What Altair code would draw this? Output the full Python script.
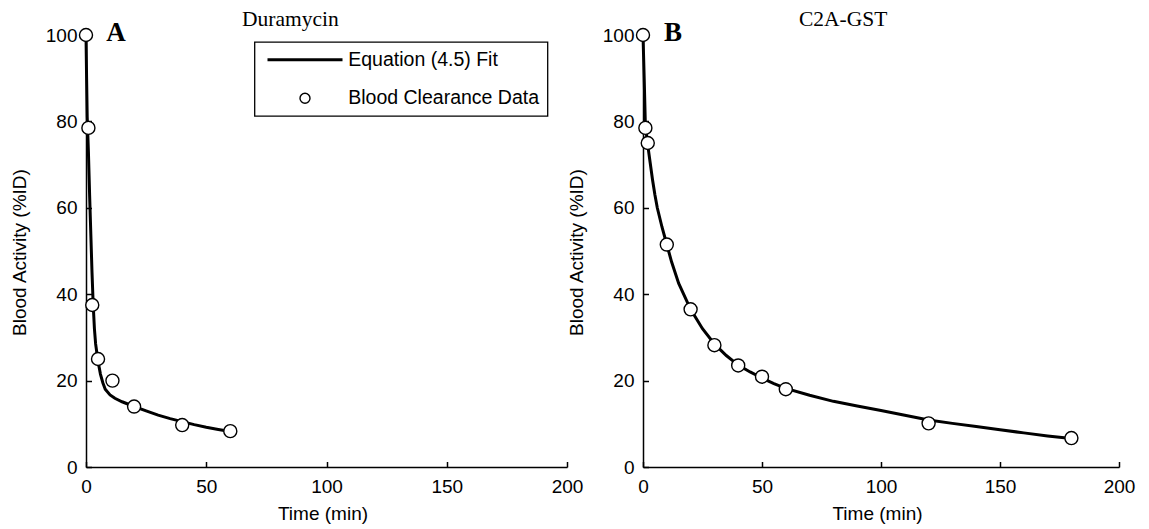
import altair as alt
import pandas as pd

# ---------------- data ----------------
panel_titles = ["Duramycin", "C2A-GST"]
panel_letters = ["A", "B"]
legend_labels = ["Equation (4.5) Fit", "Blood Clearance Data"]

x_ticks = [0, 50, 100, 150, 200]
y_ticks = [0, 20, 40, 60, 80, 100]

# Panel A – Duramycin
dura_t = [0, 1, 2.6, 5, 11, 20, 40, 60]
dura_y = [100, 78.5, 37.5, 25, 20, 14, 9.7, 8.3]
dura_fit_t = [0, 0.25, 0.5, 0.75, 1, 1.5, 2, 2.5, 3, 3.5, 4, 5, 6, 7, 8, 10, 12, 15,
              20, 25, 30, 35, 40, 45, 50, 55, 60]
dura_fit_y = [100, 90, 81, 77, 73, 63, 54, 45, 37.5, 32, 28.5, 24.5, 21.5, 19.5, 18,
              16.7, 15.9, 15.1, 14, 13, 12, 11.2, 10.5, 9.8, 9.2, 8.7, 8.2]

# Panel B – C2A-GST
c2a_t = [0, 1, 2, 10, 20, 30, 40, 50, 60, 120, 180]
c2a_y = [100, 78.5, 75, 51.5, 36.5, 28.2, 23.5, 20.9, 18, 10.1, 6.7]
c2a_fit_t = [0, 0.5, 1, 2, 3, 4, 5, 6, 8, 10, 12, 15, 20, 25, 30, 35, 40, 45, 50, 55,
             60, 70, 80, 90, 100, 110, 120, 130, 140, 150, 160, 170, 180]
c2a_fit_y = [100, 90, 79, 74.5, 70.5, 66.5, 63, 60, 55.5, 51.5, 47.5, 42.5, 36.5, 32,
             28.5, 25.8, 23.6, 22, 20.6, 19.3, 18.2, 16.6, 15.2, 14.1, 13.1, 12, 10.9,
             10.1, 9.4, 8.6, 7.9, 7.2, 6.6]

# ---------------- styling ----------------
H = 432
SANS = "Liberation Sans"
SERIF = "Liberation Serif"
LINE_PATH = "M-7.5,0H7.5"


def panel(idx, t_pts, y_pts, t_fit, y_fit, w):
    pts = pd.DataFrame({"t": t_pts, "y": y_pts, "series": legend_labels[1]})
    fit = pd.DataFrame({"t": t_fit, "y": y_fit})
    xs = alt.Scale(domain=[0, 200], nice=False, zero=False)
    ys = alt.Scale(domain=[0, 100], nice=False)

    main_x = alt.Axis(values=x_ticks, ticks=False, tickSize=0, grid=False,
                      domainColor="black", domainWidth=1.5,
                      labelFont=SANS, labelFontSize=19, labelColor="black",
                      labelPadding=10.5, labelFlush=False, format="d",
                      title="Time (min)", titleFont=SANS, titleFontSize=19,
                      titleFontWeight="normal", titleColor="black",
                      titleBaseline="alphabetic", titleY=52, titleX=w / 2 - 4)
    main_y = alt.Axis(values=y_ticks, ticks=False, tickSize=0, grid=False,
                      domainColor="black", domainWidth=1.5,
                      labelFont=SANS, labelFontSize=19, labelColor="black",
                      labelPadding=9, labelFlush=False, format="d",
                      title="Blood Activity (%ID)", titleFont=SANS, titleFontSize=19,
                      titleFontWeight="normal", titleColor="black", titleAngle=270,
                      titleBaseline="alphabetic", titleAlign="center",
                      titleX=-60.5, titleY=217)
    tick_x = alt.Axis(orient="top", offset=-H, values=x_ticks, labels=False,
                      domain=False, grid=False, ticks=True, tickSize=5.5,
                      tickWidth=1.5, tickColor="black", title=None)
    tick_y = alt.Axis(orient="right", offset=-w, values=y_ticks, labels=False,
                      domain=False, grid=False, ticks=True, tickSize=5.5,
                      tickWidth=1.5, tickColor="black", title=None)

    leg = alt.Legend(title=None, orient="none", legendX=168.5, legendY=7,
                     direction="vertical", padding=8, rowPadding=17.5,
                     symbolOffset=32.75, labelOffset=33.5, symbolSize=100,
                     labelFont=SANS, labelFontSize=19.5, labelColor="black",
                     labelLimit=400, fillColor="white", strokeColor="black",
                     labelExpr="datum.label + '\u00a0\u00a0'")

    line = alt.Chart(fit).mark_line(color="black", strokeWidth=3).encode(
        x=alt.X("t:Q", scale=xs, axis=main_x),
        y=alt.Y("y:Q", scale=ys, axis=main_y),
    )
    points = alt.Chart(pts).mark_point(filled=True, fill="white", stroke="black",
                                       size=170, opacity=1).encode(
        x=alt.X("t:Q", scale=xs, axis=tick_x),
        y=alt.Y("y:Q", scale=ys, axis=tick_y),
        shape=alt.Shape("series:N",
                        scale=alt.Scale(domain=legend_labels, range=[LINE_PATH, "circle"]),
                        legend=leg),
        strokeWidth=alt.StrokeWidth("series:N",
                                    scale=alt.Scale(domain=legend_labels, range=[3, 1.4],
                                                    type="ordinal"),
                                    legend=leg),
    )
    title = alt.Chart(pd.DataFrame({"label": [panel_titles[idx]]})).mark_text(
        font=SERIF, fontSize=21.5, align="left", baseline="alphabetic", color="black"
    ).encode(text="label:N", x=alt.value(156), y=alt.value(-9.5))
    letter = alt.Chart(pd.DataFrame({"label": [panel_letters[idx]]})).mark_text(
        font=SERIF, fontSize=27, fontWeight="bold", align="center",
        baseline="alphabetic", color="black"
    ).encode(text="label:N", x=alt.value(30), y=alt.value(5.5))

    return alt.layer(line, points, title, letter).resolve_axis(
        x="independent", y="independent"
    ).properties(width=w, height=H)


pA = panel(0, dura_t, dura_y, dura_fit_t, dura_fit_y, 481)
pB = panel(1, c2a_t, c2a_y, c2a_fit_t, c2a_fit_y, 476)

chart = alt.hconcat(pA, pB, spacing=76, bounds="flush").properties(
    autosize=alt.AutoSizeParams(type="none"),
    padding={"left": 78, "top": 27, "right": 1052, "bottom": 486},
).configure_view(strokeWidth=0).configure_legend(strokeWidth=1.3)

chart.save("out.html", embed_options={"renderer": "svg", "actions": False})
